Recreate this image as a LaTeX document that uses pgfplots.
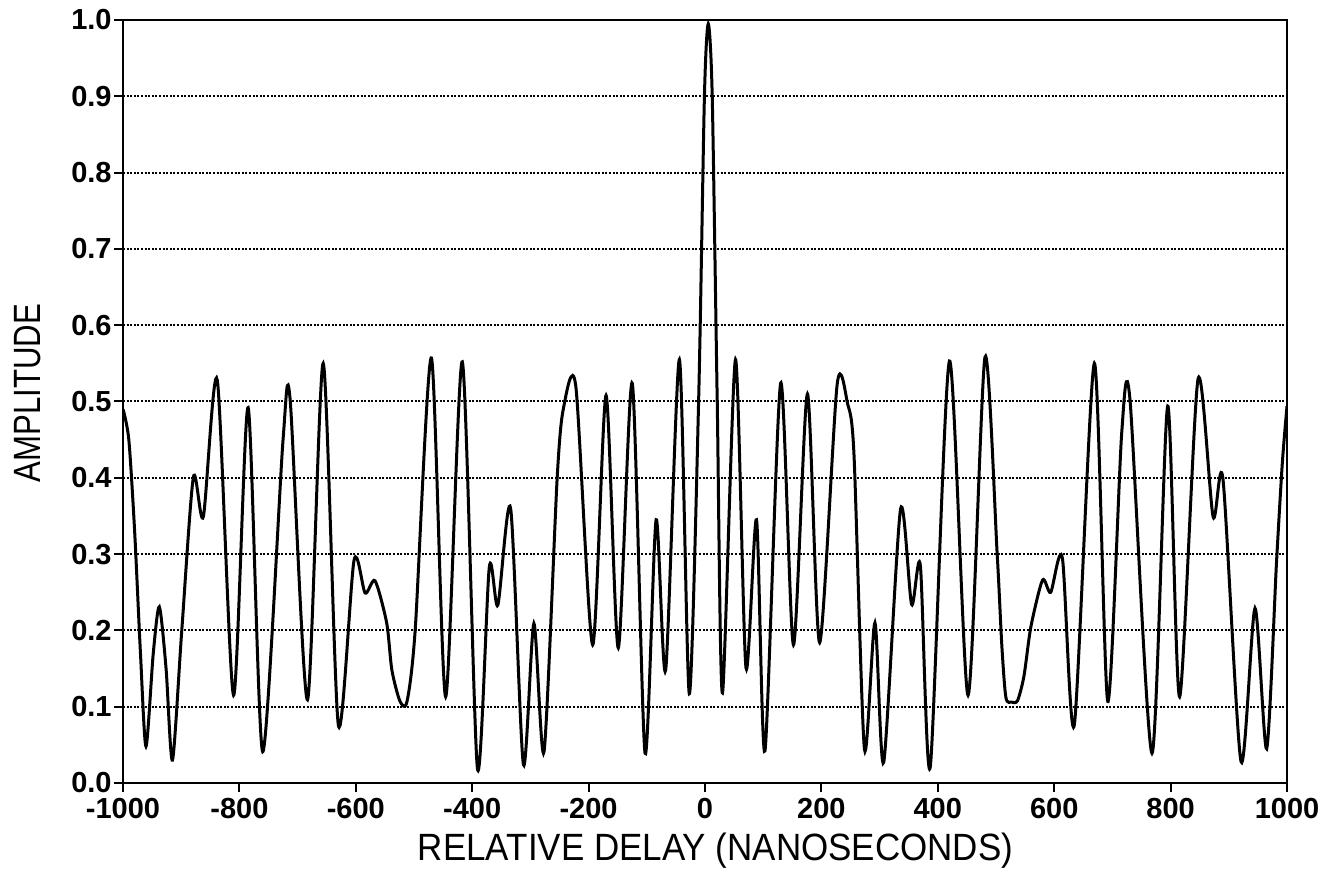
\documentclass[border=0pt]{standalone}
\usepackage{pgfplots}
\pgfplotsset{compat=1.18}
\usepackage{fontspec}
\setmainfont{Liberation Sans}
\newfontfamily\xlabfont[FakeStretch=0.92]{Liberation Sans}
\newfontfamily\ylabfont[FakeStretch=0.82]{Liberation Sans}

\begin{document}
\begin{tikzpicture}
\begin{axis}[
    scale only axis,
    width=582pt, height=381.5pt,
    xmin=-1000, xmax=1000,
    ymin=0, ymax=1,
    xtick={-1000,-800,...,1000},
    ytick={0,0.1,...,1.0},
    xtick pos=bottom, ytick pos=left,
    tick align=outside,
    major tick length=4.5pt,
    tick style={line width=1pt, black},
    axis line style={line width=1.2pt},
    ymajorgrids,
    major grid style={dash pattern=on 1pt off 0.8pt, line width=1pt, black},
    /pgf/number format/assume math mode=true,
    /pgf/number format/1000 sep={},
    ticklabel style={font=\bfseries\fontsize{14.5}{14.5}\selectfont},
    yticklabel style={/pgf/number format/.cd, fixed, fixed zerofill, precision=1, /tikz/inner sep=0pt, /tikz/xshift=-1pt},
    xticklabel style={inner sep=0pt, yshift=-3pt},
    xlabel={RELATIVE DELAY (NANOSECONDS)},
    ylabel={AMPLITUDE},
    xlabel style={font=\xlabfont\fontsize{19}{20}\selectfont, at={(axis description cs:0.509,-0.101)}, anchor=base},
    ylabel style={font=\ylabfont\fontsize{19}{20}\selectfont, at={(axis description cs:-0.0816,0.511)}, anchor=center},
    clip=true,
]
\addplot[black, line width=1.5pt, smooth, tension=0.45] coordinates {
(-1000,0.49) (-990,0.45) (-980,0.33) (-970,0.17) (-960.5,0.048) (-948,0.17)
(-937.6,0.231) (-926,0.15) (-915,0.030) (-899,0.20) (-879,0.401) (-862,0.349)
(-838,0.528) (-810,0.115) (-785,0.492) (-760,0.041) (-725,0.45) (-713,0.504)
(-683,0.109) (-656,0.550) (-630,0.076) (-603,0.292) (-584,0.249) (-567,0.265)
(-547,0.21) (-538,0.148) (-524,0.107) (-512,0.107) (-498,0.20) (-470,0.557)
(-445.6,0.113) (-417,0.552) (-391,0.019) (-370.6,0.283) (-356,0.233) (-334,0.360)
(-312,0.024) (-294,0.209) (-276.6,0.041) (-254,0.40) (-243,0.492) (-222,0.520)
(-193,0.181) (-170,0.508) (-149,0.177) (-125,0.524) (-103,0.039) (-84,0.345)
(-67.6,0.148) (-44,0.555) (-27,0.117) (-11,0.5) (-1,0.9) (5.6,0.995)
(12.4,0.9) (21,0.5) (30,0.118) (52.4,0.555) (70.4,0.151) (88.5,0.345)
(103,0.042) (130,0.524) (152,0.181) (176,0.510) (197,0.184) (227,0.522)
(245,0.497) (256,0.43) (274,0.044) (292,0.210) (307,0.027) (336,0.359)
(355,0.234) (370,0.285) (387,0.021) (420,0.553) (452,0.115) (481,0.558)
(502,0.30) (510,0.18) (517,0.112) (527,0.106) (537,0.108) (548,0.14) (560,0.205)
(580,0.266) (594,0.250) (614,0.295)
(634.5,0.076) (669,0.550) (692,0.107) (716,0.459) (730,0.504) (768,0.039)
(795,0.494) (815.5,0.113) (847,0.529) (873,0.349) (890,0.398) (921,0.028)
(945,0.229) (965,0.045) (982,0.29) (992,0.42) (1000,0.494)
};
\end{axis}
\path ([shift={(-61.5pt,-46.5pt)}]current axis.south west) rectangle ([shift={(24pt,10pt)}]current axis.north east);
\end{tikzpicture}
\end{document}
